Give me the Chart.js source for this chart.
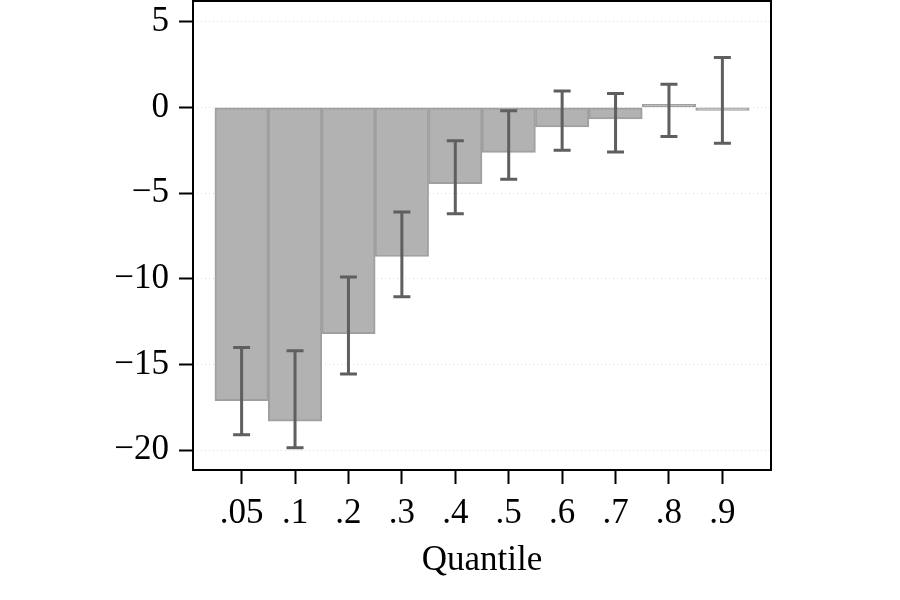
<!DOCTYPE html>
<html>
<head>
<meta charset="utf-8">
<script src="https://cdn.jsdelivr.net/npm/chart.js@4"></script>
<style>
  html, body { margin: 0; padding: 0; background: #fff; }
  #wrap { width: 900px; height: 600px; }
</style>
</head>
<body>
<div id="wrap"><canvas id="chart" width="900" height="600"></canvas></div>
<script>
const QUANTILES = [".05", ".1", ".2", ".3", ".4", ".5", ".6", ".7", ".8", ".9"];
const COEF    = [-17.1, -18.3, -13.2, -8.7, -4.45, -2.63, -1.15, -0.68, 0.05, -0.05];
const CI_LOW  = [-19.1, -19.85, -15.55, -11.05, -6.2, -4.2, -2.5, -2.6, -1.7, -2.1];
const CI_HIGH = [-14.0, -14.2, -9.9, -6.1, -1.95, -0.2, 0.95, 0.8, 1.35, 2.9];
const Y_TICKS = [-20, -15, -10, -5, 0, 5];

const FONT = "'Liberation Serif', 'Times New Roman', serif";

/* ---------- plugins ---------- */

// confidence intervals, drawn through the chart scales
const errorBars = {
  id: "errorBars",
  afterDatasetsDraw(chart) {
    const { ctx, scales: { x, y } } = chart;
    ctx.save();
    ctx.strokeStyle = "#5f5f5f";
    ctx.lineWidth = 3;
    CI_LOW.forEach((lo, i) => {
      const px = x.getPixelForValue(i + 1);
      const y1 = y.getPixelForValue(lo);
      const y2 = y.getPixelForValue(CI_HIGH[i]);
      ctx.beginPath();
      ctx.moveTo(px, y1); ctx.lineTo(px, y2);
      ctx.moveTo(px - 8.5, y1); ctx.lineTo(px + 8.5, y1);
      ctx.moveTo(px - 8.5, y2); ctx.lineTo(px + 8.5, y2);
      ctx.stroke();
    });
    ctx.restore();
  },
};

// black box around the plot region
const frame = {
  id: "frame",
  afterDraw(chart) {
    const { ctx, chartArea: a } = chart;
    ctx.save();
    ctx.strokeStyle = "#000";
    ctx.lineWidth = 2;
    ctx.strokeRect(a.left, a.top, a.right - a.left, a.bottom - a.top);
    ctx.restore();
  },
};

/* ---------- chart ---------- */

new Chart(document.getElementById("chart"), {
  type: "bar",
  data: {
    datasets: [{
      data: COEF.map((v, i) => ({ x: i + 1, y: v })),
      backgroundColor: "#b2b2b2",
      borderColor: "#a0a0a0",
      borderWidth: 2,
      borderSkipped: false,
      minBarLength: 3,
      barPercentage: 1,
      categoryPercentage: 1,
    }],
  },
  options: {
    responsive: false,
    animation: false,
    layout: { padding: { top: 1, right: 129, left: 0, bottom: 14 } },
    plugins: { legend: { display: false }, tooltip: { enabled: false } },
    scales: {
      x: {
        type: "linear",
        offset: false,
        min: 0.09,
        max: 10.91,
        afterBuildTicks: (s) => { s.ticks = QUANTILES.map((_, i) => ({ value: i + 1 })); },
        afterFit: (s) => { s.height = 116; s.paddingLeft = 0; s.paddingRight = 0; },
        ticks: {
          autoSkip: false,
          maxRotation: 0,
          padding: 9,
          color: "#000",
          font: { family: FONT, size: 35 },
          callback: (v) => QUANTILES[v - 1],
        },
        grid: {
          offset: false,
          drawOnChartArea: false,
          drawTicks: true,
          tickLength: 14,
          tickColor: "#000",
          tickWidth: 2,
        },
        border: { display: false },
        title: {
          display: true,
          text: "Quantile",
          color: "#000",
          font: { family: FONT, size: 35 },
          padding: { top: 4, bottom: 4 },
        },
      },
      y: {
        min: -21.15,
        max: 6.2,
        afterBuildTicks: (s) => { s.ticks = Y_TICKS.map((v) => ({ value: v })); },
        afterFit: (s) => { s.width = 193; s.paddingTop = 0; s.paddingBottom = 0; },
        ticks: {
          padding: 10,
          color: "#000",
          font: { family: FONT, size: 35 },
          callback: (v) => (v < 0 ? "\u2212" + Math.abs(v) : String(v)),
        },
        grid: {
          color: "#dcdcdc",
          lineWidth: 1,
          tickLength: 14,
          tickColor: "#000",
          tickWidth: 2,
          tickBorderDash: [],
        },
        border: { display: false, dash: [1, 3] },
      },
    },
  },
  plugins: [errorBars, frame],
});
</script>
</body>
</html>
